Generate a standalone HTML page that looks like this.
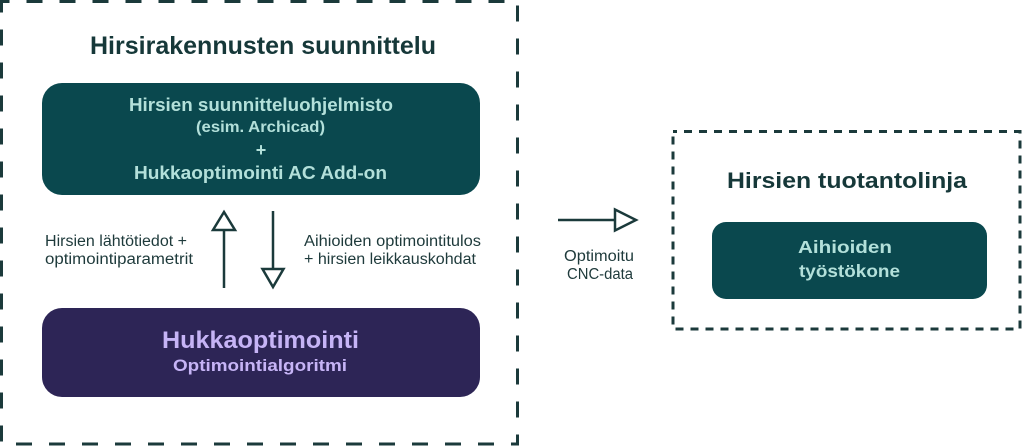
<!DOCTYPE html>
<html>
<head>
<meta charset="utf-8">
<style>
  html,body{margin:0;padding:0;background:#fff;}
  body{width:1024px;height:447px;overflow:hidden;}
  svg{display:block;}
  text{font-family:"Liberation Sans", sans-serif;}
</style>
</head>
<body>
<svg width="1024" height="447" viewBox="0 0 1024 447" xmlns="http://www.w3.org/2000/svg">
  <!-- outer dashed boxes -->
  <rect x="1.5" y="1.5" width="516" height="442.5" fill="none" stroke="#1b3a3b" stroke-width="3" stroke-dasharray="16 17" stroke-dashoffset="8"/>
  <rect x="673" y="131.5" width="347" height="197.5" fill="none" stroke="#1b3a3b" stroke-width="3" stroke-dasharray="8 7" stroke-dashoffset="4"/>

  <!-- title -->
  <text x="263" y="54" text-anchor="middle" font-size="25" font-weight="bold" fill="#163839" textLength="346" lengthAdjust="spacingAndGlyphs">Hirsirakennusten suunnittelu</text>

  <!-- teal box 1 -->
  <rect x="42" y="83" width="438" height="112" rx="20" fill="#0a484e"/>
  <g fill="#b3e0da" font-weight="bold" text-anchor="middle">
    <text x="261" y="111" font-size="18.5" textLength="264" lengthAdjust="spacingAndGlyphs">Hirsien suunnitteluohjelmisto</text>
    <text x="260.5" y="132" font-size="16" textLength="129" lengthAdjust="spacingAndGlyphs">(esim. Archicad)</text>
    <text x="261" y="156" font-size="18">+</text>
    <text x="260.5" y="179" font-size="18.5" textLength="253" lengthAdjust="spacingAndGlyphs">Hukkaoptimointi AC Add-on</text>
  </g>

  <!-- arrows -->
  <g stroke="#1b3a3b" stroke-width="2.5" fill="#fff">
    <line x1="224" y1="288" x2="224" y2="230"/>
    <polygon points="213,230 235,230 224,212" stroke-linejoin="miter"/>
    <line x1="273" y1="211" x2="273" y2="269"/>
    <polygon points="262.5,269 283.5,269 273,287"/>
    <line x1="558" y1="220" x2="615" y2="220"/>
    <polygon points="615,209.5 615,230.5 636,220"/>
  </g>

  <!-- labels -->
  <g fill="#1e3a3b" font-size="15.5">
    <text x="45" y="246" textLength="142" lengthAdjust="spacingAndGlyphs">Hirsien lähtötiedot +</text>
    <text x="45" y="264" textLength="148" lengthAdjust="spacingAndGlyphs">optimointiparametrit</text>
    <text x="304" y="246" textLength="177" lengthAdjust="spacingAndGlyphs">Aihioiden optimointitulos</text>
    <text x="304" y="264" textLength="172" lengthAdjust="spacingAndGlyphs">+ hirsien leikkauskohdat</text>
    <text x="599" y="261" text-anchor="middle" textLength="70" lengthAdjust="spacingAndGlyphs">Optimoitu</text>
    <text x="600" y="279" text-anchor="middle" textLength="66" lengthAdjust="spacingAndGlyphs">CNC-data</text>
  </g>

  <!-- purple box -->
  <rect x="42" y="308" width="438" height="89" rx="20" fill="#2d2556"/>
  <g fill="#c6b4f6" font-weight="bold" text-anchor="middle">
    <text x="260.5" y="348" font-size="24" textLength="197" lengthAdjust="spacingAndGlyphs">Hukkaoptimointi</text>
    <text x="260" y="371" font-size="17" textLength="174" lengthAdjust="spacingAndGlyphs">Optimointialgoritmi</text>
  </g>

  <!-- right section -->
  <text x="847" y="188" text-anchor="middle" font-size="22" font-weight="bold" fill="#163839" textLength="240" lengthAdjust="spacingAndGlyphs">Hirsien tuotantolinja</text>
  <rect x="712" y="222" width="275" height="77" rx="14" fill="#0a484e"/>
  <g fill="#b3e0da" font-weight="bold" text-anchor="middle" font-size="17.5">
    <text x="845" y="253" textLength="94" lengthAdjust="spacingAndGlyphs">Aihioiden</text>
    <text x="849.5" y="277" textLength="101" lengthAdjust="spacingAndGlyphs">työstökone</text>
  </g>
</svg>
</body>
</html>
